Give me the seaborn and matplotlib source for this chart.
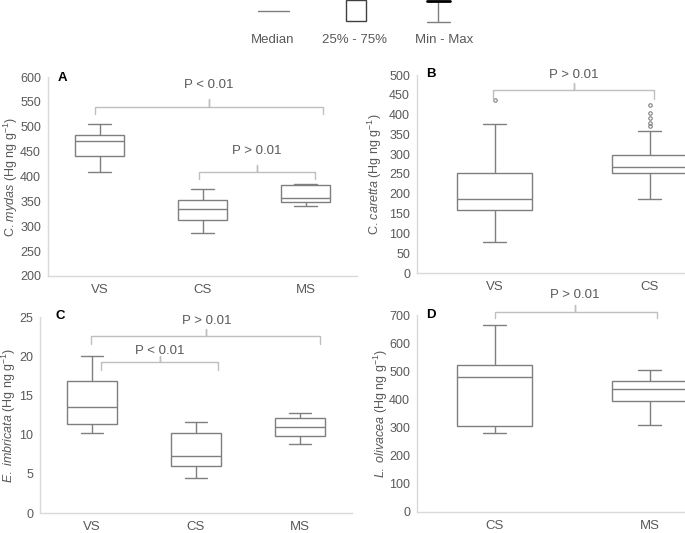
import numpy as np
import pandas as pd
import matplotlib
matplotlib.use("Agg")
import matplotlib.pyplot as plt
import seaborn as sns
from matplotlib.lines import Line2D
from matplotlib.patches import Rectangle

# Five-number summaries (min, Q1, median, Q3, max).
mydas_sites = ["VS", "CS", "MS"]
mydas_vs = [410, 441, 472, 484, 506]
mydas_cs = [287, 313, 335, 352, 374]
mydas_ms = [340, 348, 356, 382, 385]

caretta_sites = ["VS", "CS"]
caretta_vs = [78, 158, 188, 253, 376]
caretta_cs = [187, 252, 267, 297, 359]
caretta_outlier_sites = [0, 1, 1, 1, 1, 1]
caretta_outliers = [437, 371, 378, 391, 404, 424]

imbricata_sites = ["VS", "CS", "MS"]
imbricata_vs = [10.2, 11.4, 13.5, 16.8, 20.0]
imbricata_cs = [4.45, 6.0, 7.25, 10.25, 11.6]
imbricata_ms = [8.85, 9.8, 10.95, 12.1, 12.8]

olivacea_sites = ["CS", "MS"]
olivacea_cs = [281, 305, 481, 522, 665]
olivacea_ms = [310, 394, 436, 465, 506]

W, H = 685, 533
TEXT = "#595959"
BOX = "#7f7f7f"
SPINE = "#d9d9d9"
BRACE = "#bfbfbf"

sns.set_style("white")
plt.rcParams["font.family"] = ["Liberation Sans", "DejaVu Sans"]
plt.rcParams["mathtext.fontset"] = "custom"
plt.rcParams["mathtext.rm"] = "Liberation Sans"
plt.rcParams["mathtext.it"] = "Liberation Sans:italic"


def px_axes(left, right, bottom, top):
    # pixel box -> figure fraction rect
    return [left / W, 1 - bottom / H, (right - left) / W, (bottom - top) / H]


def draw_box(ax, sites, groups, ylim, ystep, capwidth, ylabel, label_x):
    df = pd.DataFrame({"site": np.repeat(sites, 5), "value": np.concatenate(groups)})
    sns.boxplot(data=df, x="site", y="value", order=sites, ax=ax, whis=(0, 100),
                width=0.48, color="white", linecolor=BOX, linewidth=1,
                showfliers=False, capwidths=capwidth)
    ax.set_xlim(-0.5, len(sites) - 0.5)
    ax.set_ylim(*ylim)
    ax.set_yticks(np.arange(ylim[0], ylim[1] + ystep / 2, ystep))
    ax.set_xlabel("")
    ax.set_ylabel(ylabel, fontsize=9, color=TEXT)
    ax.yaxis.set_label_coords(label_x, 0.5)
    sns.despine(ax=ax)
    for s in ["left", "bottom"]:
        ax.spines[s].set_color(SPINE)
        ax.spines[s].set_linewidth(1)
    ax.tick_params(axis="y", length=0, pad=5, labelsize=9, labelcolor=TEXT)
    ax.tick_params(axis="x", length=0, pad=6, labelsize=9.5, labelcolor=TEXT)


def brace(ax, x0, x1, xm, y, drop, rise, text, ty):
    ax.plot([x0, x0, xm, xm, xm, x1, x1],
            [y - drop, y, y, y + rise, y, y, y - drop],
            color=BRACE, lw=1, clip_on=False)
    ax.text(xm, ty, text, ha="center", va="center", fontsize=9.5, color=TEXT,
            clip_on=False)


fig = plt.figure(figsize=(W / 100, H / 100), dpi=100)
ax_a = fig.add_axes(px_axes(48, 357, 276, 77))
ax_b = fig.add_axes(px_axes(417, 727, 273, 75))
ax_c = fig.add_axes(px_axes(40, 352, 513, 317))
ax_d = fig.add_axes(px_axes(417, 727, 512, 315))

draw_box(ax_a, mydas_sites, [mydas_vs, mydas_cs, mydas_ms], (200, 600), 50, 0.22,
         "C. $\\mathit{mydas}$ (Hg ng g$^{-1}$)", -0.09)
brace(ax_a, -0.04, 2.17, 1.06, 540, 15, 15, "P < 0.01", 583)
brace(ax_a, 0.97, 2.09, 1.53, 409, 14, 15, "P > 0.01", 452)

draw_box(ax_b, caretta_sites, [caretta_vs, caretta_cs], (0, 500), 50, 0.15,
         "C. $\\mathit{caretta}$ (Hg ng g$^{-1}$)", -0.105)
ax_b.plot(caretta_outlier_sites, caretta_outliers, "o", ms=2.5, mfc="none",
          mec=BOX, mew=0.8)
brace(ax_b, -0.01, 1.03, 0.51, 462, 23, 17, "P > 0.01", 500)

draw_box(ax_c, imbricata_sites, [imbricata_vs, imbricata_cs, imbricata_ms], (0, 25), 5, 0.22,
         "$\\mathit{E.\\ imbricata}$ (Hg ng g$^{-1}$)", -0.07)
brace(ax_c, -0.01, 2.19, 1.10, 22.6, 1.0, 0.9, "P > 0.01", 24.5)
brace(ax_c, 0.09, 1.21, 0.65, 19.3, 1.1, 0.7, "P < 0.01", 20.6)

draw_box(ax_d, olivacea_sites, [olivacea_cs, olivacea_ms], (0, 700), 100, 0.15,
         "$\\mathit{L.\\ olivacea}$ (Hg ng g$^{-1}$)", -0.088)
brace(ax_d, 0.0, 1.05, 0.52, 711, 21, 24, "P > 0.01", 771)

for letter, (x, y) in zip("ABCD", [(62, 78), (431, 74), (60, 316), (431, 315)]):
    fig.text(x / W, 1 - y / H, letter, ha="center", va="center", fontsize=9.5,
             fontweight="bold", color="black")

# legend drawn at the top of the figure
fig.add_artist(Line2D([258 / W, 289 / W], [1 - 11 / H, 1 - 11 / H], color=BOX, lw=1,
                      transform=fig.transFigure))
fig.add_artist(Rectangle((346 / W, 1 - 21 / H), 20 / W, 21 / H, fill=False,
                         edgecolor="#404040", lw=1, transform=fig.transFigure))
fig.add_artist(Line2D([438 / W, 438 / W], [1 - 1 / H, 1 - 22 / H], color=BOX, lw=1,
                      transform=fig.transFigure))
fig.add_artist(Line2D([427 / W, 450 / W], [1 - 1 / H, 1 - 1 / H], color="black", lw=2,
                      transform=fig.transFigure))
fig.add_artist(Line2D([427 / W, 450 / W], [1 - 22 / H, 1 - 22 / H], color=BOX, lw=1,
                      transform=fig.transFigure))
for label, x in [("Median", 273), ("25% - 75%", 355), ("Min - Max", 444)]:
    fig.text(x / W, 1 - 40 / H, label, ha="center", va="center", fontsize=9.5, color=TEXT)

fig.savefig("out.png", dpi=100)
